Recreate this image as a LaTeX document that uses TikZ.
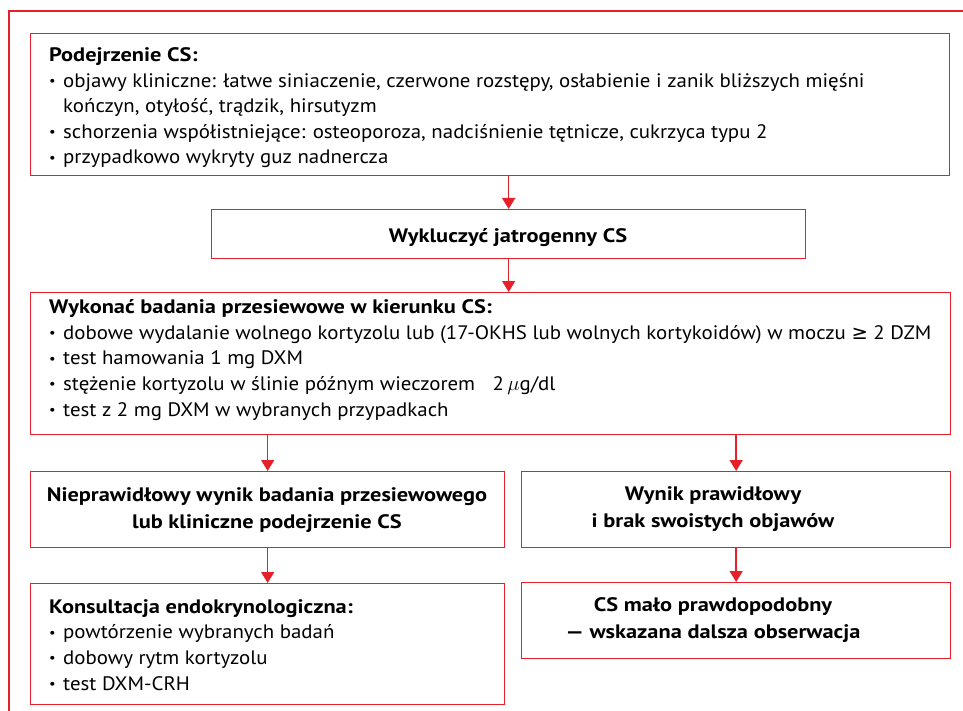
\documentclass[tikz,border=0pt]{standalone}
\usepackage{fontspec}
\usepackage{graphicx}
\setmainfont{PT Sans}[FakeStretch=1.07]
\newfontfamily\bfam{PT Sans}[FakeStretch=1.148]
\newfontfamily\symfont{DejaVu Sans}
\usetikzlibrary{arrows.meta,calc}
\definecolor{csred}{RGB}{230,32,42}
\newcommand{\bl}{\makebox[14pt][l]{\raisebox{1.5pt}{\scalebox{0.7}{\textbullet}}}}
\newcommand{\hdr}[1]{{\bfam\bfseries #1}}
\begin{document}
\begin{tikzpicture}[x=1pt,y=-1pt,
  box/.style={draw=csred,line width=1.3pt,inner sep=0pt,anchor=north west,rectangle},
  txt/.style={inner sep=0pt,anchor=base west,align=left,font=\fontsize{19.5}{25.6}\selectfont},
  ctxt/.style={inner sep=0pt,anchor=base,align=center,font=\fontsize{19.5}{26.3}\selectfont\bfam\bfseries},
  arr/.style={draw=csred,line width=1.5pt,-{Triangle[width=13pt,length=11pt]}}]
\useasboundingbox (0,0) rectangle (963,711);
% outer frame
\coordinate (fr1) at (963,11);
\coordinate (fr2) at (9,11);
\coordinate (fr3) at (9,711);
\draw[csred,line width=1.3pt] (fr1) -- (fr2) -- (fr3);
% boxes
\node[box,minimum width=919pt,minimum height=142pt] (b1) at (30,33) {};
\node[box,minimum width=594pt,minimum height=49pt] (b2) at (211,209) {};
\node[box,minimum width=920pt,minimum height=142pt] (b3) at (30,292) {};
\node[box,minimum width=474pt,minimum height=76pt] (b4) at (30,471) {};
\node[box,minimum width=429pt,minimum height=76pt] (b5) at (521,471) {};
\node[box,minimum width=474pt,minimum height=121pt] (b6) at (30,583) {};
\node[box,minimum width=429pt,minimum height=76pt] (b7) at (521,582) {};
% texts (anchored at the baseline of the last line)
\node[txt] (t1) at (49,164) {\hdr{Podejrzenie CS:}\\
\bl objawy kliniczne: łatwe siniaczenie, czerwone rozstępy, osłabienie i zanik bliższych mięśni\\
\hspace*{14pt}kończyn, otyłość, trądzik, hirsutyzm\\
\bl schorzenia współistniejące: osteoporoza, nadciśnienie tętnicze, cukrzyca typu 2\\
\bl przypadkowo wykryty guz nadnercza};
\node[ctxt] (t2) at (508,243) {Wykluczyć jatrogenny CS};
\node[txt] (t3) at (49,416) {\hdr{Wykonać badania przesiewowe w kierunku CS:}\\
\bl dobowe wydalanie wolnego kortyzolu lub (17-OKHS lub wolnych kortykoidów) w moczu {\symfont ≥} 2 DZM\\
\bl test hamowania 1 mg DXM\\
\bl stężenie kortyzolu w ślinie późnym wieczorem \hspace{12pt}2\,$\mu$g/dl\\
\bl test z 2 mg DXM w wybranych przypadkach};
\node[ctxt] (t4) at (267,528) {Nieprawidłowy wynik badania przesiewowego\\lub kliniczne podejrzenie CS};
\node[ctxt] (t5) at (713,527) {Wynik prawidłowy\\i brak swoistych objawów};
\node[txt] (t6) at (49,690) {\hdr{Konsultacja endokrynologiczna:}\\
\bl powtórzenie wybranych badań\\
\bl dobowy rytm kortyzolu\\
\bl test DXM-CRH};
\node[ctxt] (t7) at (713,638) {CS mało prawdopodobny\\— wskazana dalsza obserwacja};
% arrows
\draw[arr] (b2.north |- b1.south) -- (b2.north);
\draw[arr] (b2.south) -- (b2.south |- b3.north);
\draw[arr] (b4.north |- b3.south) -- (b4.north);
\draw[arr] (b5.north |- b3.south) -- (b5.north);
\draw[arr] (b6.north |- b4.south) -- (b6.north);
\draw[arr] (b7.north |- b5.south) -- (b7.north);
\end{tikzpicture}
\end{document}
